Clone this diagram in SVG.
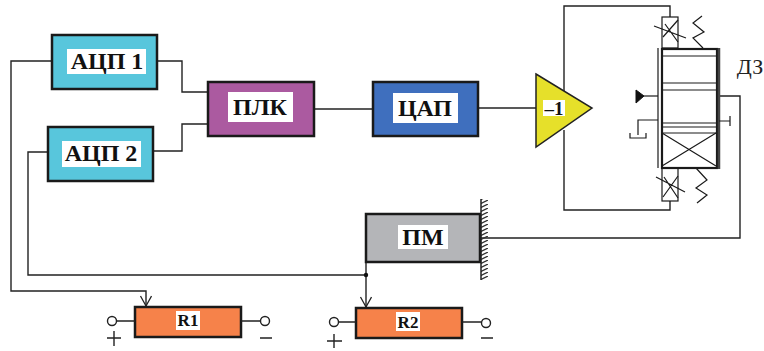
<svg xmlns="http://www.w3.org/2000/svg" width="764" height="351" viewBox="0 0 764 351">
<defs>
<marker id="vee" markerUnits="userSpaceOnUse" markerWidth="14" markerHeight="14" refX="11" refY="6" orient="auto"><path d="M1 0.5L11 6L1 11.5" fill="none" stroke="#222" stroke-width="1.3"/></marker>
<pattern id="hatch" width="8" height="4" patternUnits="userSpaceOnUse"><path d="M0 4L8 0" stroke="#333" stroke-width="1.3"/></pattern>
</defs>
<style>
.box{stroke:#1a1a1a;stroke-width:2.5}
.w{fill:none;stroke:#222;stroke-width:1.4}
.t{stroke:#1a1a1a;stroke-width:1.2;fill:none}
.lbl{font-family:"Liberation Serif","DejaVu Serif",serif;font-weight:bold;font-size:24px;fill:#111;text-anchor:middle}
.sm{font-size:17px}
</style>
<rect width="764" height="351" fill="#fff"/>
<g id="connectors">
<path class="w" d="M52 61H11V291H146V306" marker-end="url(#vee)"/>
<path class="w" d="M48 152H28V275H366"/>
<path class="w" d="M366 262V307" marker-end="url(#vee)"/>
<circle cx="366" cy="275" r="2.2" fill="#111"/>
<path class="w" d="M157 61H182V92H208"/>
<path class="w" d="M153 151H182V124H208"/>
<path class="w" d="M314 109H373"/>
<path class="w" d="M478 108H536"/>
<path class="w" d="M564 91V6H670V17"/>
<path class="w" d="M564 130V210H670V201"/>
<path class="w" d="M481 238H740V96H719"/>
</g>
<g id="adc1"><rect class="box" x="52" y="35" width="105" height="54" fill="#58c6dc"/><rect x="67" y="49" width="79" height="25" fill="#fff"/><text class="lbl" x="107" y="69">АЦП 1</text></g>
<g id="adc2"><rect class="box" x="48" y="127" width="105" height="54" fill="#58c6dc"/><rect x="62" y="141" width="79" height="26" fill="#fff"/><text class="lbl" x="101" y="161">АЦП 2</text></g>
<g id="plc"><rect class="box" x="208" y="82" width="106" height="54" fill="#ab5aa0"/><rect x="228" y="92" width="65" height="30" fill="#fff"/><text class="lbl" x="260" y="115">ПЛК</text></g>
<g id="dac"><rect class="box" x="373" y="82" width="105" height="54" fill="#3f6fbe"/><rect x="393" y="93" width="65" height="30" fill="#fff"/><text class="lbl" x="425" y="116">ЦАП</text></g>
<g id="amp"><path d="M536 74L592 108L536 147Z" fill="#e6e02a" stroke="#222" stroke-width="1.5"/><rect x="543" y="100" width="22" height="16" fill="#fff"/><text class="lbl" x="554" y="115" style="font-size:19px">–1</text></g>
<g id="valve">
<rect class="t" x="662" y="17" width="16" height="31" fill="#fff"/>
<rect class="t" x="662" y="168" width="16" height="33" fill="#fff"/>
<path class="t" d="M663 37L678 20M665 24L678 42M654 26L686 38"/>
<path class="t" d="M663 197L678 176M664 177L678 198M656 177L685 192"/>
<path class="t" d="M703 48L693 38L704 32L693 23L702 16"/>
<path class="t" d="M696 168L707 180L696 188L707 195L697 203"/>
<rect x="662" y="49" width="55" height="119" fill="#fff" stroke="#1a1a1a" stroke-width="2.2"/>
<path d="M719 48V169" stroke="#444" stroke-width="2.5"/>
<path class="t" d="M662 56H716M662 83H716M662 90H716M662 123H716M662 127H716M662 133H716"/>
<path class="t" d="M662 166L716 133M716 166L662 133"/>
<path class="t" d="M658 48V168"/>
<path class="t" d="M658 96H644"/>
<path d="M636 90L644 96L636 103Z" fill="#111" stroke="#111"/>
<path class="t" d="M658 120H638V135M630 133V138H646V133"/>
<path class="t" d="M719 121H730M730 116V126"/>
<text x="750" y="74" font-family="'Liberation Serif',serif" font-size="22" fill="#222" text-anchor="middle">ДЗ</text>
</g>
<g id="pm"><rect class="box" x="366" y="214" width="114" height="48" fill="#b4b5b8"/><rect x="398" y="225" width="50" height="24" fill="#fff"/><text class="lbl" x="423" y="245">ПМ</text><rect x="481" y="199" width="7" height="81" fill="url(#hatch)"/><path d="M481 199V280" stroke="#222" stroke-width="1.5"/></g>
<g id="r1"><rect class="box" x="135" y="307" width="106" height="30" fill="#f6824a"/><rect x="176" y="311" width="24" height="19" fill="#fff"/><text class="lbl sm" x="188" y="326">R1</text>
<path class="w" d="M117 321H135M241 321H261"/><circle class="w" cx="112" cy="321" r="4.5"/><circle class="w" cx="265" cy="321" r="4.5"/><path class="w" d="M107 338H121M114 331V346M260 338H272"/></g>
<g id="r2"><rect class="box" x="356" y="308" width="106" height="30" fill="#f6824a"/><rect x="396" y="312" width="24" height="19" fill="#fff"/><text class="lbl sm" x="408" y="328">R2</text>
<path class="w" d="M339 322H356M462 322H481"/><circle class="w" cx="334" cy="322" r="4.5"/><circle class="w" cx="486" cy="323" r="4.5"/><path class="w" d="M327 341H342M334 334V348M481 338H493"/></g>
</svg>
